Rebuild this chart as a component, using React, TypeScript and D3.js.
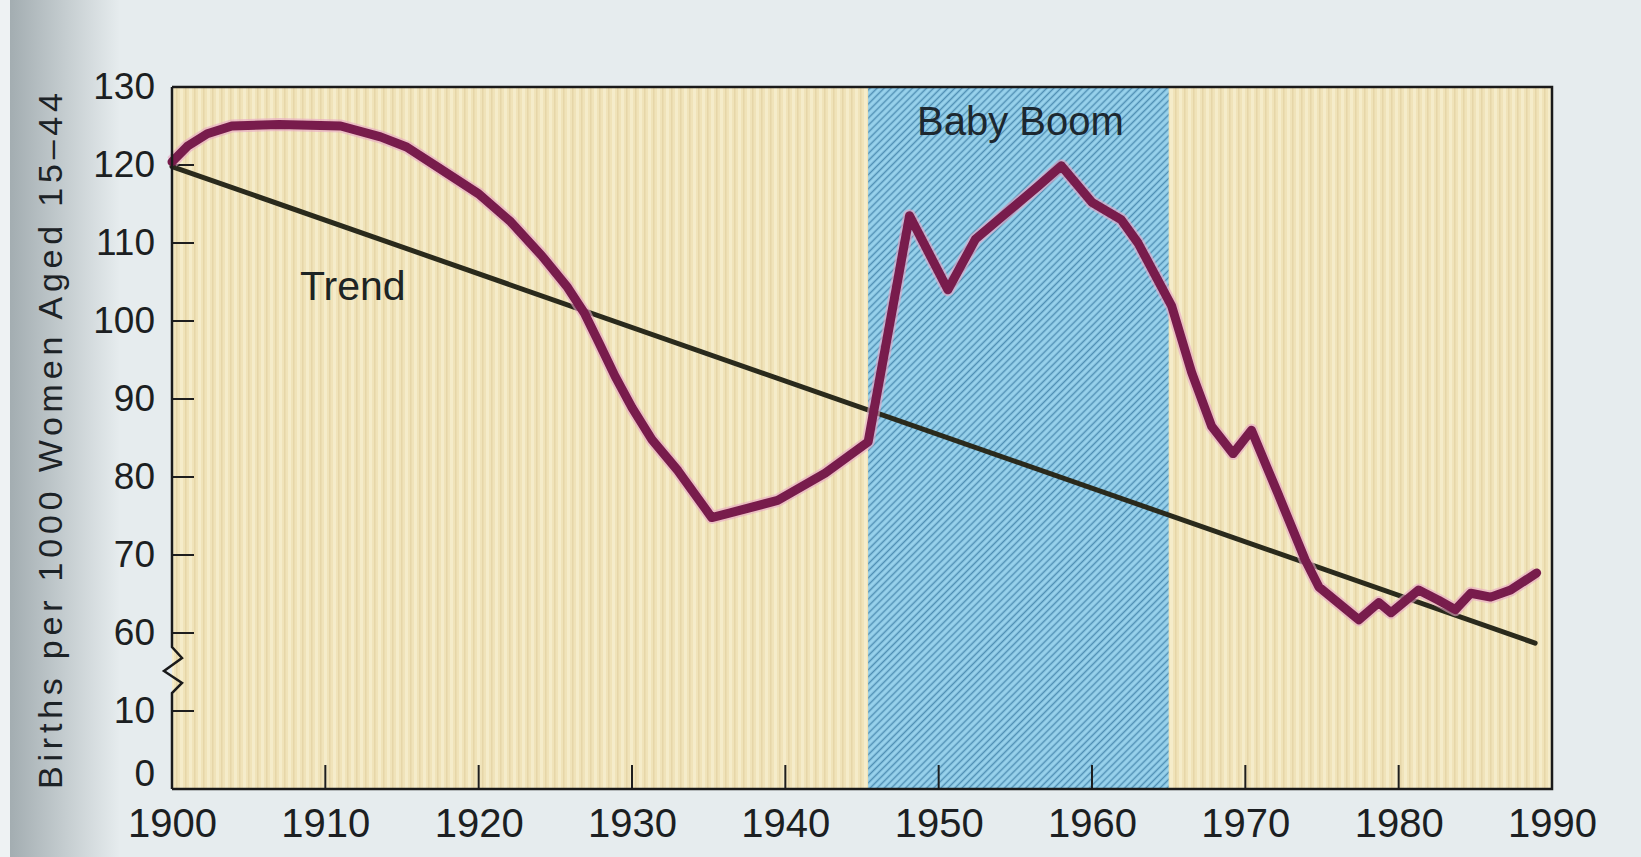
import { useRef, useEffect } from 'react';
import * as d3 from 'd3';

// values (x = year position on the axis)
const xTicks = [1900, 1910, 1920, 1930, 1940, 1950, 1960, 1970, 1980, 1990];
const yTicks = [0, 10, 60, 70, 80, 90, 100, 110, 120, 130];

const rateYears = [
  1900, 1901, 1902.3, 1903.9, 1907, 1911, 1913.6, 1915.3, 1917.5, 1920, 1922.1, 1924.1,
  1925.8, 1926.9, 1927.9, 1928.9, 1930, 1931.3, 1933, 1935.2, 1936.4, 1939.5, 1942.6, 1945.4,
  1948.1, 1950.6, 1952.4, 1956.5, 1958, 1960, 1961.9, 1963, 1965.2, 1966.5, 1967.8, 1969.2,
  1970.4, 1972.1, 1973.9, 1974.8, 1977.4, 1978.7, 1979.5, 1981.3, 1982.6, 1983.7, 1984.7,
  1986, 1987.3, 1989,
];
const rateValues = [
  120.4, 122.4, 124, 125, 125.2, 125, 123.6, 122.3, 119.5, 116.3, 112.7, 108.4,
  104.3, 101, 97, 92.9, 88.9, 84.8, 80.8, 74.8, 75.4, 77, 80.5, 84.5,
  113.5, 104, 110.5, 117.3, 119.9, 115.2, 113, 110, 101.9, 93.4, 86.5, 83,
  86, 78, 69.4, 65.9, 61.7, 63.9, 62.6, 65.5, 64.2, 63, 65.1,
  64.6, 65.5, 67.7,
];

const trendYears = [1900, 1988.9];
const trendValues = [119.8, 58.7];

const boomStart = 1945.4;
const boomEnd = 1965;

const App = () => {
  const svgRef = useRef(null);

  useEffect(() => {
    document.body.style.margin = '0';
    const width = 1641;
    const height = 857;
    const left = 172, right = 1552, top = 87, bottom = 789;
    const step = (bottom - top) / 9;
    const font = '"Liberation Sans", Arial, sans-serif';

    const svg = d3.select(svgRef.current).attr('width', width).attr('height', height);
    svg.selectAll('*').remove();

    const x = d3.scaleLinear().domain([1900, 1990]).range([left, right]);
    // broken axis: 0, 10, then 60..130 all one tick step apart
    const yAxisScale = d3.scaleLinear()
      .domain([0, 10, 60, 130])
      .range([bottom, bottom - step, bottom - 2 * step, top]);
    const y = d3.scaleLinear().domain([60, 130]).range([bottom - 2 * step, top]);

    const defs = svg.append('defs');
    const tan = defs.append('pattern')
      .attr('id', 'tan').attr('patternUnits', 'userSpaceOnUse')
      .attr('width', 9).attr('height', 10);
    tan.append('rect').attr('width', 9).attr('height', 10).attr('fill', '#f0e3b9');
    tan.append('rect').attr('x', 0).attr('width', 3).attr('height', 10).attr('fill', '#f5ecca');
    tan.append('rect').attr('x', 5).attr('width', 1.5).attr('height', 10).attr('fill', '#e6d6a8');

    const hatch = defs.append('pattern')
      .attr('id', 'hatch').attr('patternUnits', 'userSpaceOnUse')
      .attr('width', 5).attr('height', 5)
      .attr('patternTransform', 'rotate(45)');
    hatch.append('rect').attr('width', 5).attr('height', 5).attr('fill', '#98d2ec');
    hatch.append('line')
      .attr('x1', 2.5).attr('y1', 0).attr('x2', 2.5).attr('y2', 5)
      .attr('stroke', '#4f8fb4').attr('stroke-width', 1.5);

    const gutter = defs.append('linearGradient').attr('id', 'gutter');
    gutter.append('stop').attr('offset', '0%').attr('stop-color', '#a3adb1');
    gutter.append('stop').attr('offset', '100%').attr('stop-color', '#e6ecee');

    // page
    svg.append('rect').attr('width', width).attr('height', height).attr('fill', '#e6ecee');
    svg.append('rect').attr('x', 0).attr('width', 10).attr('height', height).attr('fill', '#eef2f3');
    svg.append('rect').attr('x', 10).attr('width', 110).attr('height', height).attr('fill', 'url(#gutter)');

    // plot background and baby boom band
    svg.append('rect')
      .attr('x', left).attr('y', top)
      .attr('width', right - left).attr('height', bottom - top)
      .attr('fill', 'url(#tan)');
    svg.append('rect')
      .attr('x', x(boomStart)).attr('y', top)
      .attr('width', x(boomEnd) - x(boomStart)).attr('height', bottom - top)
      .attr('fill', 'url(#hatch)');

    // inner tick marks
    svg.append('g').selectAll('line')
      .data(yTicks.filter(d => d !== 0 && d !== 130))
      .join('line')
      .attr('x1', left).attr('x2', left + 22)
      .attr('y1', d => yAxisScale(d)).attr('y2', d => yAxisScale(d))
      .attr('stroke', '#1e1e1e').attr('stroke-width', 2);
    svg.append('g').selectAll('line')
      .data(xTicks.slice(1, -1))
      .join('line')
      .attr('x1', d => x(d)).attr('x2', d => x(d))
      .attr('y1', bottom).attr('y2', bottom - 24)
      .attr('stroke', '#1e1e1e').attr('stroke-width', 2);

    // trend
    const trend = trendYears.map((d, i) => [d, trendValues[i]]);
    svg.append('path')
      .datum(trend)
      .attr('d', d3.line().x(d => x(d[0])).y(d => y(d[1])))
      .attr('fill', 'none')
      .attr('stroke', '#2a2a1c')
      .attr('stroke-width', 5)
      .attr('stroke-linecap', 'round');

    // fertility rate
    const rate = rateYears.map((d, i) => [d, rateValues[i]]);
    const rateLine = d3.line().x(d => x(d[0])).y(d => y(d[1]));
    svg.append('path')
      .datum(rate)
      .attr('d', rateLine)
      .attr('fill', 'none')
      .attr('stroke', '#e7a6c4')
      .attr('stroke-opacity', 0.6)
      .attr('stroke-width', 13)
      .attr('stroke-linejoin', 'round');
    svg.append('path')
      .datum(rate)
      .attr('d', rateLine)
      .attr('fill', 'none')
      .attr('stroke', '#781c4c')
      .attr('stroke-width', 9)
      .attr('stroke-linejoin', 'round')
      .attr('stroke-linecap', 'round');

    // frame: top, right, bottom
    svg.append('path')
      .attr('d', `M${left},${top}H${right}V${bottom}H${left}`)
      .attr('fill', 'none')
      .attr('stroke', '#1a1a1a')
      .attr('stroke-width', 2.5);

    // left axis with the break between 10 and 60
    const mid = (yAxisScale(10) + yAxisScale(60)) / 2;
    svg.append('path')
      .attr('d', `M${left},${top}V${mid - 25}L${left + 10},${mid - 14}L${left - 8},${mid - 1}`
        + `L${left + 10},${mid + 11}L${left},${mid + 21}V${bottom}`)
      .attr('fill', 'none')
      .attr('stroke', '#1a1a1a')
      .attr('stroke-width', 2.5)
      .attr('stroke-linejoin', 'miter');

    // tick labels
    const yAxis = svg.append('g')
      .attr('transform', `translate(${left},0)`)
      .call(d3.axisLeft(yAxisScale).tickValues(yTicks).tickSize(0).tickPadding(17));
    yAxis.select('.domain').remove();
    yAxis.selectAll('text')
      .attr('font-family', font)
      .attr('font-size', 37)
      .attr('fill', '#1c1f22');
    // the zero label sits a little above the corner, clear of the year labels
    yAxis.selectAll('.tick').filter(d => d === 0).select('text').attr('y', -15);

    const xAxis = svg.append('g')
      .attr('transform', `translate(0,${bottom})`)
      .call(d3.axisBottom(x).tickValues(xTicks).tickFormat(d3.format('d')).tickSize(0).tickPadding(20));
    xAxis.select('.domain').remove();
    xAxis.selectAll('text')
      .attr('font-family', font)
      .attr('font-size', 40)
      .attr('fill', '#1c1f22');

    // annotations
    svg.append('text')
      .attr('x', (x(boomStart) + x(boomEnd)) / 2 + 2)
      .attr('y', 135)
      .attr('text-anchor', 'middle')
      .attr('font-family', font)
      .attr('font-size', 40)
      .attr('fill', '#1d2830')
      .text('Baby Boom');
    svg.append('text')
      .attr('x', 300)
      .attr('y', 300)
      .attr('font-family', font)
      .attr('font-size', 41)
      .attr('fill', '#1d2424')
      .text('Trend');

    svg.append('text')
      .attr('transform', `translate(62,441) rotate(-90)`)
      .attr('text-anchor', 'middle')
      .attr('font-family', font)
      .attr('font-size', 34)
      .attr('textLength', 696)
      .attr('lengthAdjust', 'spacing')
      .attr('fill', '#1c2226')
      .text('Births per 1000 Women Aged 15\u201344');
  }, []);

  return <svg ref={svgRef} style={{ display: 'block' }} />;
};

export default App;
